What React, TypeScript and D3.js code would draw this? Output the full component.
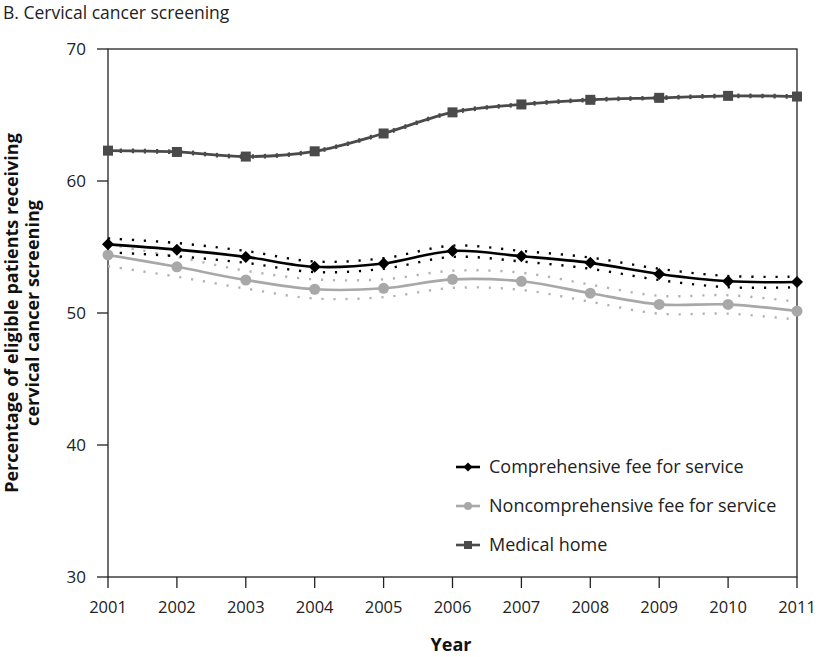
import React from "react";
import * as d3 from "d3";

const years = [2001, 2002, 2003, 2004, 2005, 2006, 2007, 2008, 2009, 2010, 2011];
const comprehensive = [55.2, 54.8, 54.25, 53.5, 53.75, 54.7, 54.3, 53.8, 52.95, 52.4, 52.35];
const compLower = [54.6, 54.3, 53.8, 53.1, 53.35, 54.25, 53.9, 53.35, 52.5, 51.95, 51.95];
const compUpper = [55.65, 55.3, 54.7, 53.9, 54.15, 55.1, 54.7, 54.2, 53.35, 52.8, 52.75];
const noncomprehensive = [54.4, 53.5, 52.5, 51.8, 51.87, 52.55, 52.4, 51.5, 50.65, 50.65, 50.15];
const noncompLower = [53.55, 52.75, 51.85, 51.1, 51.2, 51.9, 51.75, 50.85, 49.95, 49.95, 49.5];
const noncompUpper = [55.2, 54.25, 53.2, 52.55, 52.55, 53.2, 53.05, 52.15, 51.3, 51.35, 50.85];
const medicalHome = [62.3, 62.2, 61.85, 62.25, 63.6, 65.2, 65.8, 66.15, 66.3, 66.45, 66.4];
const medLower = medicalHome.map((v) => v - 0.1);
const medUpper = medicalHome.map((v) => v + 0.1);
const yTicks = [30, 40, 50, 60, 70];
const legendLabels = ["Comprehensive fee for service", "Noncomprehensive fee for service", "Medical home"];

const FONT = "'Open Sans', 'Noto Sans', sans-serif";

export default function App() {
  const W = 825, H = 657;
  const x = d3.scaleLinear().domain([2001, 2011]).range([108, 797]);
  const y = d3.scaleLinear().domain([30, 70]).range([577, 49]);
  const line = (vals: number[]) =>
    d3.line<number>().x((_, i) => x(years[i])).y((v) => y(v)).curve(d3.curveCatmullRom.alpha(0.5))(vals) || "";

  const blackC = "#000000";
  const grayC = "#a8a8a8";
  const darkC = "#4a4a4a";

  const diamond = (cx: number, cy: number, s: number, fill: string, key: any) => (
    <path key={key} d={`M${cx},${cy - s}L${cx + s},${cy}L${cx},${cy + s}L${cx - s},${cy}Z`} fill={fill} />
  );
  const square = (cx: number, cy: number, s: number, fill: string, key: any) => (
    <rect key={key} x={cx - s} y={cy - s} width={2 * s} height={2 * s} fill={fill} />
  );
  const circle = (cx: number, cy: number, r: number, fill: string, key: any) => (
    <circle key={key} cx={cx} cy={cy} r={r} fill={fill} />
  );

  const dotted = (vals: number[], color: string, w = 2.4) => (
    <path d={line(vals)} fill="none" stroke={color} strokeWidth={w} strokeDasharray="2.2 9.8" />
  );

  const legendX = 456;
  const legendRows = [467, 506, 545];

  return (
    <svg width={W} height={H} style={{ position: "absolute", left: 0, top: 0, background: "#fff" }} fontFamily={FONT}>
      <rect width={W} height={H} fill="#fff" />
      <text x={3} y={19} fontSize={17.5} fill="#222">B. Cervical cancer screening</text>

      {/* frame */}
      <rect x={108} y={49} width={689} height={528} fill="none" stroke="#222" strokeWidth={1.3} />

      {/* y ticks */}
      {yTicks.map((t) => (
        <g key={t}>
          <line x1={97} x2={108} y1={y(t)} y2={y(t)} stroke="#222" strokeWidth={1.3} />
          <text x={86} y={y(t) + 6} fontSize={17} textAnchor="end" fill="#222">{t}</text>
        </g>
      ))}
      {/* x ticks */}
      {years.map((yr) => (
        <g key={yr}>
          <line x1={x(yr)} x2={x(yr)} y1={577} y2={588} stroke="#222" strokeWidth={1.3} />
          <text x={x(yr)} y={613} fontSize={16.5} textAnchor="middle" fill="#222">{yr}</text>
        </g>
      ))}
      <text x={451} y={651} fontSize={18} fontWeight="bold" textAnchor="middle" fill="#111">Year</text>
      <g transform="translate(18,313) rotate(-90)">
        <text x={0} y={0} fontSize={18} fontWeight="bold" textAnchor="middle" fill="#111">Percentage of eligible patients receiving</text>
        <text x={0} y={21} fontSize={18} fontWeight="bold" textAnchor="middle" fill="#111">cervical cancer screening</text>
      </g>

      {/* CI bands */}
      {dotted(noncompLower, "#b3b3b3")}
      {dotted(noncompUpper, "#b3b3b3")}
      {dotted(compLower, blackC)}
      {dotted(compUpper, blackC)}

      {/* lines */}
      <path d={line(noncomprehensive)} fill="none" stroke={grayC} strokeWidth={2.6} />
      <path d={line(comprehensive)} fill="none" stroke={blackC} strokeWidth={2.6} />
      <path d={line(medicalHome)} fill="none" stroke={darkC} strokeWidth={2.8} />
      {dotted(medLower, darkC, 2.0)}
      {dotted(medUpper, darkC, 2.0)}

      {/* markers */}
      {noncomprehensive.map((v, i) => circle(x(years[i]), y(v), 5.5, grayC, "n" + i))}
      {comprehensive.map((v, i) => diamond(x(years[i]), y(v), 6, blackC, "c" + i))}
      {medicalHome.map((v, i) => square(x(years[i]), y(v), 5, darkC, "m" + i))}

      {/* legend */}
      {legendLabels.map((lab, i) => {
        const cy = legendRows[i];
        const col = i === 0 ? blackC : i === 1 ? grayC : darkC;
        const cx = legendX + 12;
        return (
          <g key={lab}>
            <line x1={legendX} x2={legendX + 24} y1={cy} y2={cy} stroke={col} strokeWidth={2.6} />
            {i === 0 && diamond(cx, cy, 4.5, col, "ld")}
            {i === 1 && circle(cx, cy, 4, col, "lc")}
            {i === 2 && square(cx, cy, 4, col, "ls")}
            <text x={legendX + 33} y={cy + 6} fontSize={18} fill="#222">{lab}</text>
          </g>
        );
      })}
    </svg>
  );
}
